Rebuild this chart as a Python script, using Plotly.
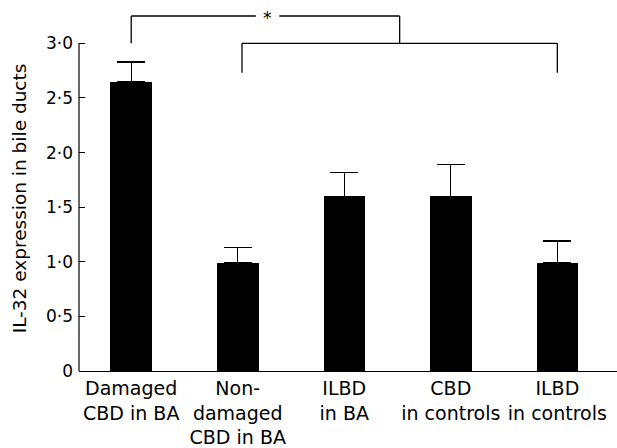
import plotly.graph_objects as go

# ---- data ----
categories = ["Damaged<br>CBD in BA", "Non-<br>damaged<br>CBD in BA", "ILBD<br>in BA",
              "CBD<br>in controls", "ILBD<br>in controls"]
means = [2.65, 0.99, 1.60, 1.60, 0.99]
errors = [0.18, 0.14, 0.22, 0.29, 0.20]
ytick_vals = [0, 0.5, 1.0, 1.5, 2.0, 2.5, 3.0]
ytick_text = ["0", "0·5", "1·0", "1·5", "2·0", "2·5", "3·0"]
y_title = "IL-32 expression in bile ducts"
# significance brackets (x in category index units, y in data units)
low_bracket_x = [1.04, 4.0]
low_bracket_y = [3.0, 2.73]
high_bracket_x = [0.0, 2.52]
high_bracket_y = [3.25, 3.0]
star_x = 1.28
star_gap = [1.17, 1.39]

FONT = "DejaVu Sans"
xpos = list(range(len(categories)))

fig = go.Figure()
fig.add_trace(go.Bar(
    x=xpos, y=means, width=0.39,
    marker=dict(color="black", line=dict(width=0)),
    error_y=dict(type="data", symmetric=False, array=errors,
                 arrayminus=[0] * len(errors),
                 color="black", thickness=1.3, width=14),
    showlegend=False,
))

line = dict(color="black", width=1.3)
shapes = []
# y axis line (stops at 3.0)
shapes.append(dict(type="line", xref="paper", yref="y", x0=0, x1=0,
                   y0=0, y1=ytick_vals[-1], line=dict(color="black", width=1.2)))
# lower bracket
lx0, lx1 = low_bracket_x
ly_top, ly_bot = low_bracket_y
shapes.append(dict(type="line", xref="x", yref="y", x0=lx0, x1=lx1, y0=ly_top, y1=ly_top, line=line))
shapes.append(dict(type="line", xref="x", yref="y", x0=lx0, x1=lx0, y0=ly_top, y1=ly_bot, line=line))
shapes.append(dict(type="line", xref="x", yref="y", x0=lx1, x1=lx1, y0=ly_top, y1=ly_bot, line=line))
# upper bracket
hx0, hx1 = high_bracket_x
hy_top, hy_bot = high_bracket_y
shapes.append(dict(type="line", xref="x", yref="y", x0=hx0, x1=star_gap[0], y0=hy_top, y1=hy_top, line=line))
shapes.append(dict(type="line", xref="x", yref="y", x0=star_gap[1], x1=hx1, y0=hy_top, y1=hy_top, line=line))
shapes.append(dict(type="line", xref="x", yref="y", x0=hx0, x1=hx0, y0=hy_top, y1=hy_bot, line=line))
shapes.append(dict(type="line", xref="x", yref="y", x0=hx1, x1=hx1, y0=hy_top, y1=hy_bot, line=line))

annotations = [
    dict(x=star_x, y=hy_top, xref="x", yref="y", text="*", showarrow=False,
         font=dict(family=FONT, size=17, color="black"), yanchor="middle", yshift=-2),
    dict(x=-0.11, y=0.47, xref="paper", yref="paper", text=y_title, showarrow=False,
         textangle=-90, font=dict(family=FONT, size=18.5, color="black"),
         xanchor="center", yanchor="middle"),
]

fig.update_layout(
    width=617, height=448, autosize=False,
    margin=dict(l=79, r=0, t=4, b=77, pad=0),
    plot_bgcolor="white", paper_bgcolor="white",
    shapes=shapes, annotations=annotations,
    bargap=0,
    xaxis=dict(range=[-0.49, 4.56], tickvals=xpos, ticktext=categories,
               showline=True, linecolor="black", linewidth=1.2, ticks="",
               showgrid=False, zeroline=False, automargin=False,
               tickfont=dict(family=FONT, size=19, color="black")),
    yaxis=dict(range=[0, 3.36], tickvals=ytick_vals, ticktext=ytick_text,
               ticks="inside", ticklen=6, tickcolor="black", tickwidth=1.2,
               showline=False, showgrid=False, zeroline=False, automargin=False,
               ticklabelstandoff=5,
               tickfont=dict(family=FONT, size=17, color="black")),
)

fig.write_html("out.html", config={"displayModeBar": False},
               post_script="document.body.style.margin='0';document.body.style.overflow='hidden';")
